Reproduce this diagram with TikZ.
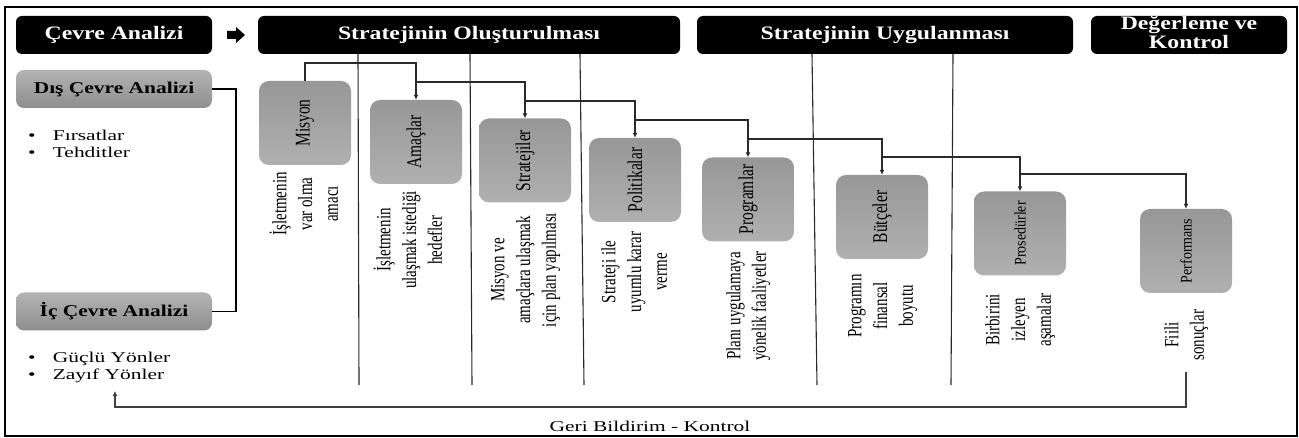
\documentclass[tikz,border=0pt]{standalone}
\usepackage{fontspec}
\setmainfont{Liberation Serif}
\usetikzlibrary{arrows.meta,calc}
\definecolor{sideTop}{HTML}{B3B3B3}
\definecolor{sideBot}{HTML}{8E8E8E}
\definecolor{procTop}{HTML}{979797}
\definecolor{procBot}{HTML}{B0B0B0}
\definecolor{lineC}{HTML}{2A2A2A}
\newcommand{\hb}[1]{\scalebox{1.25}[1]{#1}}
\newcommand{\hs}[1]{\scalebox{1.3}[1]{#1}}
\newcommand{\hr}[1]{\scalebox{1.43}[1]{#1}}
\newcommand{\vt}[1]{\scalebox{1}[1.35]{#1}}
\newcommand{\vs}[1]{\scalebox{1}[1.15]{#1}}
\newcommand{\dl}[1]{\vt{\begin{tabular}{@{}c@{}}#1\end{tabular}}}
\begin{document}
\begin{tikzpicture}[x=1pt,y=-1pt,
  hdr/.style={fill=black, rounded corners=6pt, minimum height=38pt, inner sep=0pt,
    text=white, font=\bfseries\fontsize{19}{18.5}\selectfont},
  side/.style={rounded corners=8pt, top color=sideTop, bottom color=sideBot,
    minimum width=196pt, minimum height=38pt, inner sep=0pt,
    font=\bfseries\fontsize{16.5}{18}\selectfont},
  proc/.style={rounded corners=10pt, top color=procTop, bottom color=procBot,
    minimum width=92pt, minimum height=84pt, inner sep=0pt},
  lbl/.style={rotate=90, inner sep=0pt, font=\fontsize{15.5}{18}\selectfont},
  lbls/.style={rotate=90, inner sep=0pt, font=\fontsize{14}{18}\selectfont},
  desc/.style={rotate=90, inner sep=0pt, font=\fontsize{15}{19}\selectfont},
  blist/.style={inner sep=0pt, anchor=west, font=\fontsize{15}{17}\selectfont},
  conn/.style={draw=lineC, line width=1.1pt, -{Latex[length=5pt,width=5pt]}},
  sep/.style={draw=lineC, line width=1.1pt},
  brk/.style={draw=black, line width=1.8pt},
  fbline/.style={draw=black!75, line width=1.2pt, -{Latex[length=5pt,width=5pt]}},
]
\useasboundingbox (0,0) rectangle (1299,438);
\fill[white] (0,0) rectangle (1299,438);
% outer frame
\draw[black, line width=1.8pt] (5,7) rectangle (1297,436);

% headers
\node[hdr, minimum width=196pt] (hA) at (114,35) {\hb{Çevre Analizi}};
\node[hdr, minimum width=422pt] (hB) at (469,35) {\hb{Stratejinin Oluşturulması}};
\node[hdr, minimum width=376pt] (hC) at (885,35) {\hb{Stratejinin Uygulanması}};
\node[hdr, minimum width=196pt] (hD) at (1189,35) {\hb{\begin{tabular}{@{}c@{}}Değerleme ve\\Kontrol\end{tabular}}};

% block arrow
\fill[black] (227,31) -- (236,31) -- (236,27) -- (245,35) -- (236,43) -- (236,39) -- (227,39) -- cycle;

% left side
\node[side] (dis) at (114,89) {\hs{Dış Çevre Analizi}};
\node[side] (ic) at (114,311.5) {\hs{İç Çevre Analizi}};
\draw[brk] (dis.east) -- ++(24,0) |- (ic.east);

\node[blist] (firs) at (28,146) {\hr{\begin{tabular}{@{}l@{\hspace{12pt}}l@{}}\textbullet & Fırsatlar\\ \textbullet & Tehditler\end{tabular}}};
\node[blist] (guc) at (28,368) {\hr{\begin{tabular}{@{}l@{\hspace{12pt}}l@{}}\textbullet & Güçlü Yönler\\ \textbullet & Zayıf Yönler\end{tabular}}};

% separators
\draw[sep] (hB.south -| 358,0) -- (359,385);
\draw[sep] (hB.south -| 470,0) -- (472,385);
\draw[sep] (hB.south -| 580,0) -- (584,385);
\draw[sep] (hC.south -| 812,0) -- (817,385);
\draw[sep] (hC.south -| 953,0) -- (951,385);

% process boxes
\node[proc] (mis) at (305,123) {};
\node[proc] (ama) at (416,142) {};
\node[proc] (str) at (525,160.5) {};
\node[proc] (pol) at (635,180) {};
\node[proc] (pro) at (748,199.5) {};
\node[proc] (but) at (882,217) {};
\node[proc] (prs) at (1020,233.5) {};
\node[proc] (per) at (1186,251) {};

\node[lbl] (misL) at (mis) {\vt{Misyon}};
\node[lbl] (amaL) at (ama) {\vt{Amaçlar}};
\node[lbl] (strL) at (str) {\vt{Stratejiler}};
\node[lbl] (polL) at (pol) {\vt{Politikalar}};
\node[lbl] (proL) at (pro) {\vt{Programlar}};
\node[lbl] (butL) at (but) {\vt{Bütçeler}};
\node[lbls] (prsL) at (prs) {\vs{Prosedürler}};
\node[lbls] (perL) at (per) {\vs{Performans}};

% descriptions
\node[desc] (misD) at (307,204) {\dl{İşletmenin\\var olma\\amacı}};
\node[desc] (amaD) at (411,240) {\dl{İşletmenin\\ulaşmak istediği\\hedefler}};
\node[desc] (strD) at (525,270) {\dl{Misyon ve\\amaçlara ulaşmak\\için plan yapılması}};
\node[desc] (polD) at (636,272) {\dl{Strateji ile\\uyumlu karar\\verme}};
\node[desc] (proD) at (748,306) {\dl{Planı uygulamaya\\yönelik faaliyetler}};
\node[desc] (butD) at (882,306) {\dl{Programın\\finansal\\boyutu}};
\node[desc] (prsD) at (1020,320) {\dl{Birbirini\\izleyen\\aşamalar}};
\node[desc] (perD) at (1186,335) {\dl{Fiili\\sonuçlar}};

% connectors
\draw[conn] (mis.north) -- (mis.north |- 0,63) -| (ama.north);
\draw[conn] (ama.north |- 0,82) -| (str.north);
\draw[conn] (str.north |- 0,101) -| (pol.north);
\draw[conn] (pol.north |- 0,120) -| (pro.north);
\draw[conn] (pro.north |- 0,139) -| (but.north);
\draw[conn] (but.north |- 0,157) -| (prs.north);
\draw[conn] (prs.north |- 0,174) -| (per.north);

% feedback
\coordinate (fbS) at (1186,372);
\coordinate (fbE) at (115,391);
\draw[fbline] (fbS) -- ++(0,35) -| (fbE);
\node[inner sep=0pt, font=\fontsize{15}{17}\selectfont] (fbL) at (650,426) {\hr{Geri Bildirim - Kontrol}};
\end{tikzpicture}
\end{document}
